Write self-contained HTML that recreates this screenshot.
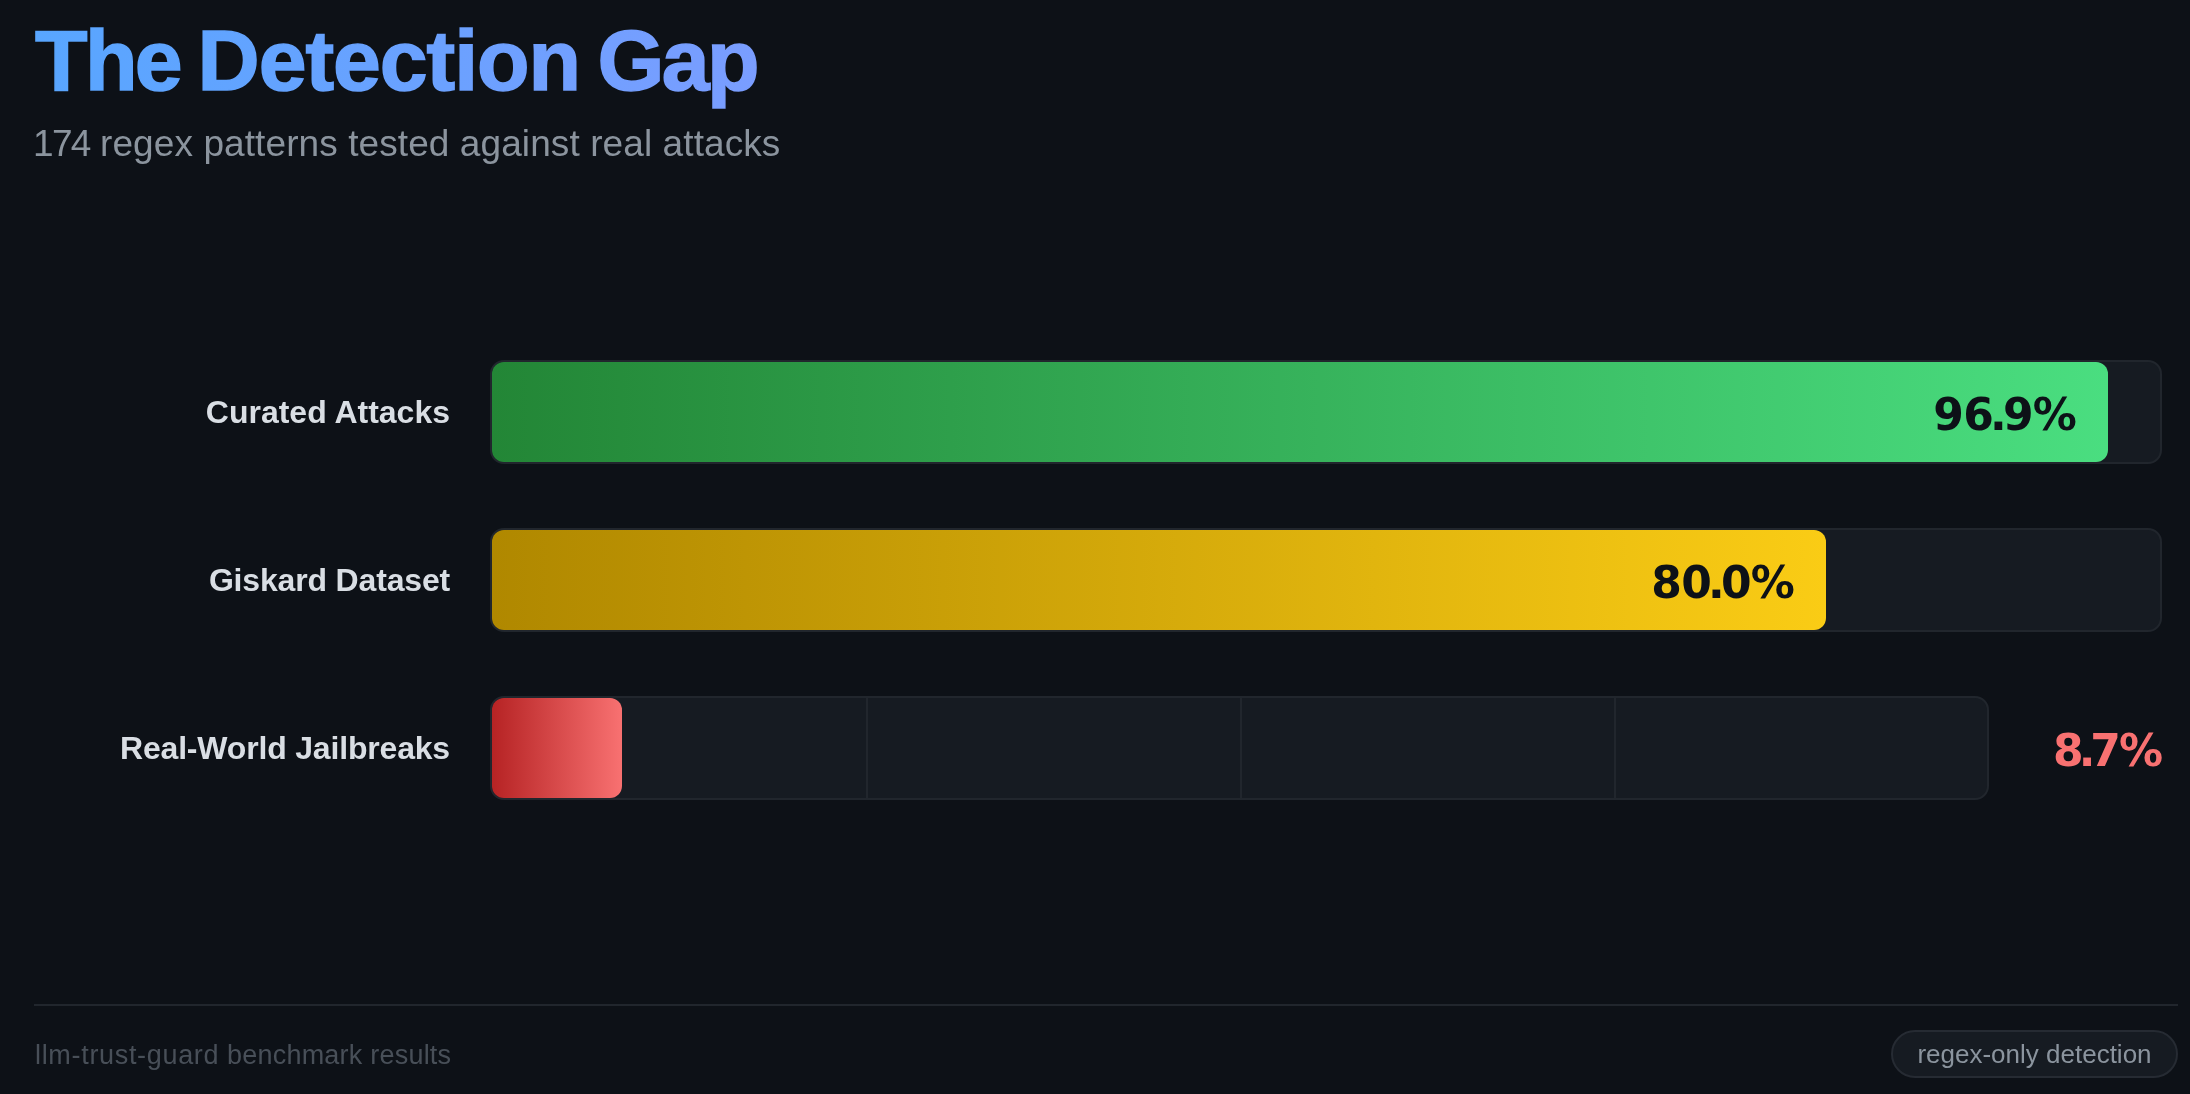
<!DOCTYPE html>
<html lang="en">
<head>
<meta charset="utf-8">
<title>The Detection Gap</title>
<style>
  * { box-sizing: border-box; margin: 0; padding: 0; }
  html, body {
    width: 2190px; height: 1094px; overflow: hidden;
    background: #0d1117;
    font-family: "Liberation Sans", sans-serif;
    -webkit-font-smoothing: antialiased;
  }
  .card { will-change: transform; position: relative; width: 2190px; height: 1094px; background: #0d1117; }

  /* ---------- header ---------- */
  h1 {
    position: absolute; left: 34px; top: 10px; width: 2144px; padding-left: 1px;
    font-size: 86px; line-height: 100px; font-weight: 700;
    letter-spacing: -1.8px; word-spacing: -4.6px; white-space: nowrap; -webkit-text-stroke: 1.6px transparent;
    background: linear-gradient(90deg, #58a6ff 0%, #bc8cff 100%);
    -webkit-background-clip: text; background-clip: text;
    color: transparent; -webkit-text-fill-color: transparent;
  }
  h1 .w1 { letter-spacing: -2.6px; }
  h1 .w2 { letter-spacing: -1.05px; }
  h1 .w3 { letter-spacing: -2.6px; }
  .sub {
    position: absolute; left: 33px; top: 120px;
    font-size: 37px; line-height: 48px; font-weight: 400; letter-spacing: 0.09px;
    color: #8b949e; white-space: nowrap;
  }

  .sub .n { letter-spacing: -1.7px; }

  /* ---------- chart ---------- */
  .row { position: absolute; left: 0; width: 2190px; height: 104px; }
  .row.r1 { top: 360px; }
  .row.r2 { top: 528px; }
  .row.r3 { top: 696px; }
  .label {
    position: absolute; right: 1740px; top: 0; height: 104px; line-height: 104px;
    font-size: 32px; font-weight: 700; color: #d9dee4; white-space: nowrap;
  }
  .track {
    position: absolute; left: 490px; top: 0; height: 104px; width: 1672px;
    background: #161b22; border: 2px solid #21262d; border-radius: 14px;
  }
  .r3 .track { width: 1499px; }
  .r3 .label { letter-spacing: -0.18px; }
  .r2 .label { letter-spacing: -0.17px; }
  .fill {
    position: absolute; left: 0; top: 0; height: 100px; border-radius: 12px;
  }
  .r1 .fill { width: 1616px; background: linear-gradient(90deg, #238636, #4ade80); }
  .r2 .fill { width: 1334px; background: linear-gradient(90deg, #b08800, #facc15); }
  .r3 .fill { width: 130px;  background: linear-gradient(90deg, #b62324, #f87171); }
  .tick { position: absolute; top: 0; width: 2px; height: 100px; background: #21262d; }
  .val {
    position: absolute; top: 3px; height: 100px; line-height: 100px; right: 32px;
    font-family: "DejaVu Sans", "Liberation Sans", sans-serif;
    font-size: 44px; font-weight: 700; color: #0d1117; white-space: nowrap; letter-spacing: -0.8px;
  }
  .val .d { margin: 0 -3px; }
  .val.out {
    right: auto; left: 2053px; top: 5px; color: #f87171; letter-spacing: -2px;
  }

  /* ---------- footer ---------- */
  .rule { position: absolute; left: 34px; top: 1004px; width: 2144px; height: 2px; background: #21262d; }
  .foot {
    position: absolute; left: 35px; top: 1035px;
    font-size: 27px; line-height: 40px; color: #484f58; white-space: nowrap; letter-spacing: 0.22px;
  }
  .foot .a { letter-spacing: 0.68px; }
  .pill {
    position: absolute; left: 1891px; top: 1030px; width: 287px; height: 48px;
    background: #161b22; border: 2px solid #262b33; border-radius: 24px;
    font-size: 26px; line-height: 44px; text-align: center; color: #8b949e; white-space: nowrap;
  }
</style>
</head>
<body>
<div class="card">
  <h1><span class="w1">The</span> <span class="w2">Detection</span> <span class="w3">Gap</span></h1>
  <p class="sub"><span class="n">174</span> regex patterns tested against real attacks</p>

  <div class="row r1">
    <div class="label">Curated Attacks</div>
    <div class="track"><div class="fill"><span class="val">96<span class="d">.</span>9%</span></div></div>
  </div>
  <div class="row r2">
    <div class="label">Giskard Dataset</div>
    <div class="track"><div class="fill"><span class="val">80<span class="d">.</span>0%</span></div></div>
  </div>
  <div class="row r3">
    <div class="label">Real-World Jailbreaks</div>
    <div class="track">
      <i class="tick" style="left:374px"></i><i class="tick" style="left:748px"></i><i class="tick" style="left:1122px"></i>
      <div class="fill"></div>
    </div>
    <span class="val out">8<span class="d">.</span>7%</span>
  </div>

  <div class="rule"></div>
  <div class="foot"><span class="a">llm-trust-guard</span> benchmark results</div>
  <div class="pill">regex-only detection</div>
</div>
<script>
  /* no-op at the native 2190px viewport; scales the fixed canvas if rendered at another width */
  (function(){var w=window.innerWidth||2190; if(Math.abs(w-2190)>1){document.documentElement.style.zoom=w/2190;}})();
</script>
</body>
</html>
